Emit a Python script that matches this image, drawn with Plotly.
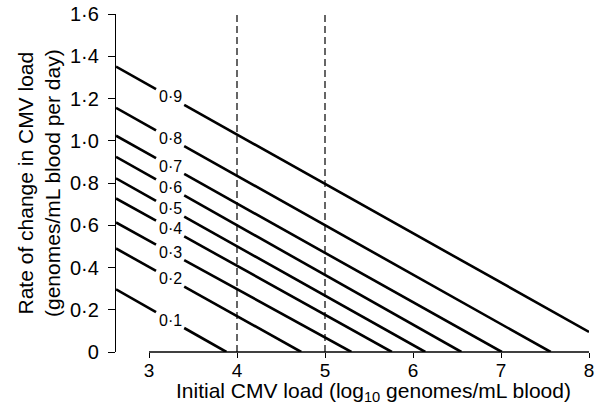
import plotly.graph_objects as go
import numpy as np

# Probability contour labels
prob_labels = ["0·1", "0·2", "0·3", "0·4", "0·5", "0·6", "0·7", "0·8", "0·9"]
# Each line: starts at the left edge of the plot, ends at the x axis (or right edge)
start_load = [2.625] * 9
start_rate = [0.297, 0.490, 0.613, 0.727, 0.822, 0.924, 1.024, 1.156, 1.351]
end_load = [3.88, 4.73, 5.30, 5.76, 6.14, 6.55, 7.01, 7.565, 8.0]
end_rate = [0, 0, 0, 0, 0, 0, 0, 0, 0.095]

x_ticks = [3, 4, 5, 6, 7, 8]
y_ticks = [0, 0.2, 0.4, 0.6, 0.8, 1.0, 1.2, 1.4, 1.6]
y_ticktext = ["0", "0·2", "0·4", "0·6", "0·8", "1·0", "1·2", "1·4", "1·6"]
ref_loads = [4, 5]

label_load = 3.24
gap_half = 0.16

FONT = "Liberation Sans"

fig = go.Figure()
annotations = []
for lab, x0, y0, x1, y1 in zip(prob_labels, start_load, start_rate, end_load, end_rate):
    xs = [x0, x1]
    ys = [y0, y1]
    xa, xb = label_load - gap_half, label_load + gap_half
    ya, yb, yl = np.interp([xa, xb, label_load], xs, ys)
    fig.add_trace(go.Scatter(
        x=[x0, xa, None, xb, x1], y=[y0, ya, None, yb, y1],
        mode="lines", line=dict(color="black", width=2.6),
        showlegend=False, hoverinfo="skip", connectgaps=False))
    annotations.append(dict(x=label_load, y=yl, xref="x", yref="y", text=lab,
                            showarrow=False, font=dict(size=16, color="black", family=FONT),
                            xanchor="center", yanchor="middle"))

shapes = []
for xv in ref_loads:
    shapes.append(dict(type="line", x0=xv, x1=xv, xref="x", y0=y_ticks[0], y1=y_ticks[-1], yref="y",
                       line=dict(color="black", width=1.2, dash="7px,4px"), layer="below"))
# x axis line from 3 to 8
shapes.append(dict(type="line", x0=x_ticks[0], x1=x_ticks[-1], xref="x", y0=0, y1=0, yref="paper",
                   line=dict(color="black", width=1.4)))

annotations.append(dict(x=0, xref="paper", y=0.5, yref="paper",
                        text="Rate of change in CMV load<br>(genomes/mL blood per day)",
                        textangle=-90, showarrow=False, xanchor="center", yanchor="middle",
                        xshift=-77, font=dict(size=21, color="black", family=FONT)))
annotations.append(dict(x=5.55, xref="x", y=0, yref="paper",
                        text="Initial CMV load (log<sub>10</sub> genomes/mL blood)",
                        showarrow=False, xanchor="center", yanchor="middle",
                        yshift=-40, font=dict(size=21, color="black", family=FONT)))

fig.update_layout(
    width=596, height=406,
    margin=dict(l=116, r=7, t=14, b=54),
    plot_bgcolor="white", paper_bgcolor="white",
    xaxis=dict(range=[2.625, 8], tickvals=x_ticks, ticks="outside", ticklen=5,
               tickcolor="black", tickwidth=1.2, showgrid=False, zeroline=False,
               showline=False, automargin=False, ticklabelstandoff=-4,
               tickfont=dict(size=19, color="black", family=FONT)),
    yaxis=dict(range=[0, 1.6], tickvals=y_ticks, ticktext=y_ticktext, ticks="outside",
               ticklen=7, tickcolor="black", tickwidth=1.2, showgrid=False, zeroline=False,
               showline=True, linecolor="black", linewidth=1.4, automargin=False,
               ticklabelstandoff=5,
               tickfont=dict(size=20, color="black", family=FONT)),
    shapes=shapes, annotations=annotations,
)
fig.write_html("out.html")
